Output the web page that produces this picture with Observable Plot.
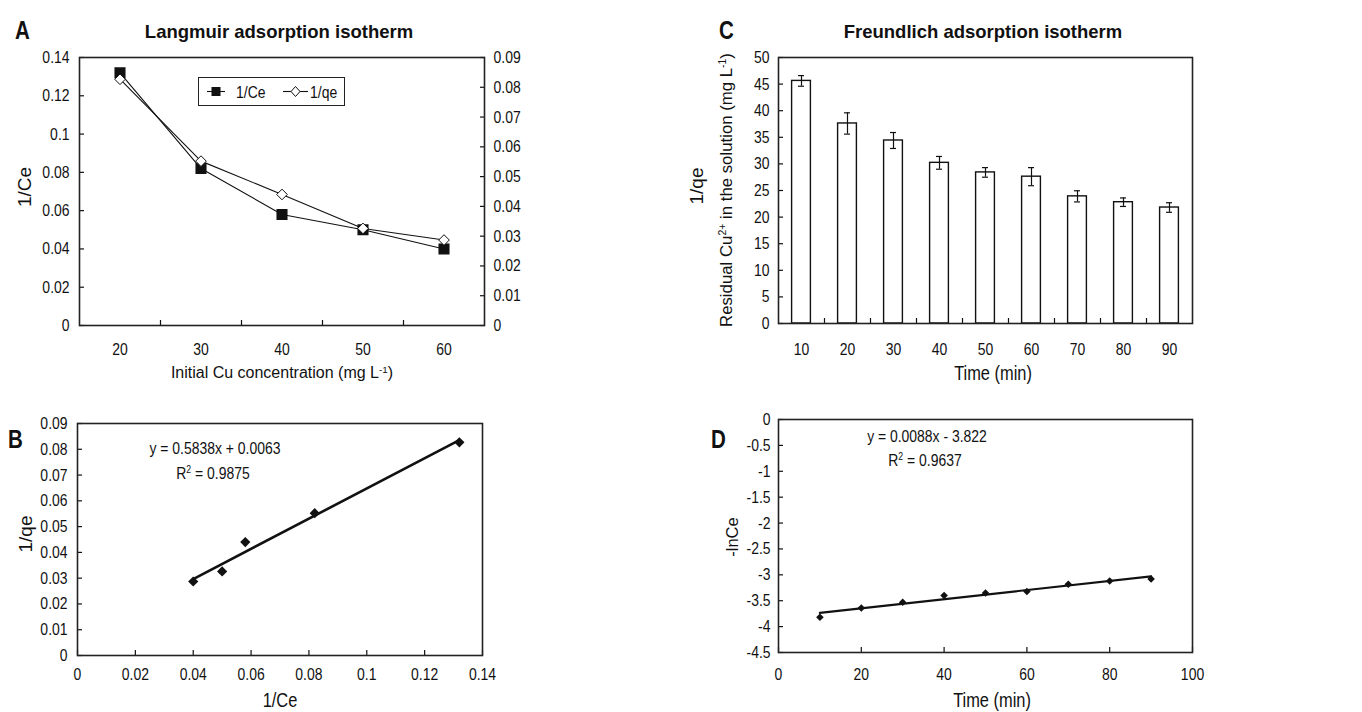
<!DOCTYPE html>
<html><head><meta charset="utf-8">
<script src="https://cdn.jsdelivr.net/npm/d3@7"></script>
<script src="https://cdn.jsdelivr.net/npm/@observablehq/plot@0.6"></script>
<style>
body{margin:0;background:#fff;}
#root{position:relative;width:1362px;height:712px;overflow:hidden;font-family:"Liberation Sans",Arial,sans-serif;color:#111;background:#fff;}
.abs{position:absolute;white-space:nowrap;line-height:1;}
.ctr{transform:translate(-50%,-50%);}
.rot{transform:translate(-50%,-50%) rotate(-90deg);}
.ctr.narrow{transform:translate(-50%,-50%) scaleX(0.82);}
.letter{transform:scaleX(0.82);transform-origin:left top;font-weight:bold;}
.bold{font-weight:bold;}
sup{font-size:0.62em;vertical-align:0.55em;line-height:0;}
.plotbox{position:absolute;}
.plotbox svg{overflow:visible;}
</style></head><body><div id="root"></div>
<script>
// ---------- data ----------
const concentrations = [20, 30, 40, 50, 60];
const invCe = [0.132, 0.082, 0.058, 0.050, 0.040];
const invQe = [0.0827, 0.0552, 0.0440, 0.0326, 0.0287];
const times = [10, 20, 30, 40, 50, 60, 70, 80, 90];
const residualCu = [45.6, 37.6, 34.4, 30.2, 28.4, 27.6, 23.9, 22.8, 21.8];
const residualErr = [1.0, 2.0, 1.5, 1.2, 0.9, 1.7, 1.05, 0.8, 0.9];
const negLnCe = [-3.82, -3.64, -3.53, -3.40, -3.35, -3.32, -3.18, -3.12, -3.08];

const aLeftTicks = [0, 0.02, 0.04, 0.06, 0.08, 0.1, 0.12, 0.14];
const aRightTicks = [0, 0.01, 0.02, 0.03, 0.04, 0.05, 0.06, 0.07, 0.08, 0.09];
const bXTicks = [0, 0.02, 0.04, 0.06, 0.08, 0.1, 0.12, 0.14];
const bYTicks = [0, 0.01, 0.02, 0.03, 0.04, 0.05, 0.06, 0.07, 0.08, 0.09];
const cYTicks = [0, 5, 10, 15, 20, 25, 30, 35, 40, 45, 50];
const dXTicks = [0, 20, 40, 60, 80, 100];
const dYTicks = [0, -0.5, -1, -1.5, -2, -2.5, -3, -3.5, -4, -4.5];

// ---------- tables ----------
const rowsA = concentrations.map((c, i) => ({c, ce: invCe[i], qe: invQe[i]}));
const rowsC = times.map((t, i) => ({t, v: residualCu[i], e: residualErr[i], ln: negLnCe[i]}));
const mid = arr => arr.slice(1).map((v, i) => (v + arr[i]) / 2);

const fmt = d => String(+(+d).toFixed(3));
const FONT = '"Liberation Sans",Arial,sans-serif';
const INK = "#111";
const baseStyle = {fontFamily: FONT, fontSize: "17px", color: INK, background: "transparent", overflow: "visible"};
const TICK = 5;
const NARROW = 0.82;

function frame() { return Plot.frame({stroke: "#222", strokeWidth: 1.6}); }
function yAxis(ticks, opts = {}) {
  const anchor = opts.anchor || "left";
  const f = opts.format || fmt;
  return [
    Plot.axisY(ticks, {anchor, tickSize: 0, tickPadding: opts.pad ?? 10, tickFormat: f, fontSize: 17}),
    Plot.axisY(ticks, {anchor, tickSize: -TICK, tickFormat: () => "", strokeWidth: 1.2})
  ];
}
function xAxis(labelTicks, tickTicks, pad) {
  return [
    Plot.axisX(labelTicks, {tickSize: 0, tickPadding: pad, tickFormat: fmt, fontSize: 17}),
    Plot.axisX(tickTicks, {tickSize: -TICK, tickFormat: () => "", strokeWidth: 1.2})
  ];
}

const root = document.getElementById("root");
function condense(svg) {
  svg.querySelectorAll("text").forEach(t => {
    const L = t.getComputedTextLength();
    if (L > 0) {
      t.setAttribute("textLength", (L * NARROW).toFixed(2));
      t.setAttribute("lengthAdjust", "spacingAndGlyphs");
    }
  });
}
function place(el, left, top) {
  const box = document.createElement("div");
  box.className = "plotbox";
  box.style.left = left + "px"; box.style.top = top + "px";
  box.appendChild(el); root.appendChild(box);
  condense(el);
}
function txt(html, x, y, cls, size) {
  const d = document.createElement("div");
  d.className = "abs " + cls;
  d.style.left = x + "px"; d.style.top = y + "px"; d.style.fontSize = size + "px";
  d.innerHTML = html; root.appendChild(d);
}

// ---------- Panel A ----------
const k = 0.14 / 0.09;
const plotA = Plot.plot({
  width: 560, height: 330, marginLeft: 79, marginRight: 76, marginTop: 17, marginBottom: 45,
  style: baseStyle,
  x: {domain: [15, 65], label: null},
  y: {domain: [0, 0.14], label: null},
  marks: [
    ...yAxis(aLeftTicks),
    ...yAxis(aRightTicks.map(v => v * k), {anchor: "right", pad: 9, format: d => fmt(d / k)}),
    ...xAxis(concentrations, mid(concentrations), 17),
    Plot.line(rowsA, {x: "c", y: "ce", stroke: INK, strokeWidth: 1.1}),
    Plot.line(rowsA, {x: "c", y: d => d.qe * k, stroke: INK, strokeWidth: 1.1}),
    Plot.dot(rowsA, {x: "c", y: "ce", symbol: "square", fill: INK, stroke: INK, r: 5.4}),
    Plot.dot(rowsA, {x: "c", y: d => d.qe * k, symbol: "diamond2", fill: "white", stroke: INK, strokeWidth: 1, r: 4.8}),
    frame()
  ]
});
place(plotA, 0, 40);

// ---------- Panel B ----------
const plotB = Plot.plot({
  width: 560, height: 312, marginLeft: 77, marginRight: 78, marginTop: 23, marginBottom: 57,
  style: baseStyle,
  x: {domain: [0, 0.14], label: null},
  y: {domain: [0, 0.09], label: null},
  marks: [
    ...yAxis(bYTicks),
    ...xAxis(bXTicks, bXTicks, 12),
    Plot.linearRegressionY(rowsA, {x: "ce", y: "qe", ci: 0, stroke: INK, strokeWidth: 2.6}),
    Plot.dot(rowsA, {x: "ce", y: "qe", symbol: "diamond2", fill: INK, r: 4.6}),
    frame()
  ]
});
place(plotB, 0, 400);

// ---------- Panel C ----------
const halfBand = 5;
const barInset = 13.6;
const capInset = 20;
const plotC = Plot.plot({
  width: 662, height: 330, marginLeft: 78, marginRight: 170, marginTop: 17, marginBottom: 47,
  style: baseStyle,
  x: {domain: [5, 95], label: null},
  y: {domain: [0, 50], label: null},
  marks: [
    ...yAxis(cYTicks, {pad: 9}),
    ...xAxis(times, mid(times), 19),
    Plot.rectY(rowsC, {x1: d => d.t - halfBand, x2: d => d.t + halfBand, y: "v", fill: "white", stroke: INK, strokeWidth: 1.4, insetLeft: barInset, insetRight: barInset}),
    Plot.ruleX(rowsC, {x: "t", y1: d => d.v - d.e, y2: d => d.v + d.e, stroke: INK, strokeWidth: 1.2}),
    Plot.ruleY(rowsC, {y: d => d.v + d.e, x1: d => d.t - halfBand, x2: d => d.t + halfBand, insetLeft: capInset, insetRight: capInset, stroke: INK, strokeWidth: 1.2}),
    Plot.ruleY(rowsC, {y: d => d.v - d.e, x1: d => d.t - halfBand, x2: d => d.t + halfBand, insetLeft: capInset, insetRight: capInset, stroke: INK, strokeWidth: 1.2}),
    frame()
  ]
});
place(plotC, 700, 40);

// ---------- Panel D ----------
const plotD = Plot.plot({
  width: 662, height: 312, marginLeft: 78, marginRight: 170, marginTop: 19, marginBottom: 60,
  style: baseStyle,
  x: {domain: [0, 100], label: null},
  y: {domain: [-4.5, 0], label: null},
  marks: [
    ...yAxis(dYTicks, {pad: 8}),
    ...xAxis(dXTicks, dXTicks, 15),
    Plot.linearRegressionY(rowsC, {x: "t", y: "ln", ci: 0, stroke: INK, strokeWidth: 2.2}),
    Plot.dot(rowsC, {x: "t", y: "ln", symbol: "diamond2", fill: INK, r: 3.4}),
    frame()
  ]
});
place(plotD, 700, 400);

// ---------- texts ----------
txt("A", 15, 18, "letter", 25);
txt("Langmuir adsorption isotherm", 279, 32, "bold ctr", 18.5);
txt("1/Ce", 24, 187, "rot", 19);
txt("1/qe", 696, 186, "rot", 19);
txt("Initial Cu concentration (mg L<sup>-1</sup>)", 282, 373, "ctr", 16);

txt("B", 8, 427, "letter", 25);
txt("1/qe", 25, 534, "rot", 19);
txt("1/Ce", 280, 700, "narrow ctr", 20);
txt("y = 0.5838x + 0.0063", 215, 448, "narrow ctr", 17);
txt("R<sup>2</sup> = 0.9875", 213, 473, "narrow ctr", 17);

txt("C", 719, 18, "letter", 25);
txt("Freundlich adsorption isotherm", 983, 32, "bold ctr", 18.5);
txt("Residual Cu<sup>2+</sup> in the solution (mg L<sup>-1</sup>)", 727, 190, "rot", 16.8);
txt("Time (min)", 993, 373, "narrow ctr", 20);

txt("D", 711, 427, "letter", 25);
txt("-lnCe", 732, 537, "rot", 16.5);
txt("Time (min)", 992, 700, "narrow ctr", 20);
txt("y = 0.0088x - 3.822", 927, 436, "narrow ctr", 17);
txt("R<sup>2</sup> = 0.9637", 925, 460, "narrow ctr", 17);

// ---------- legend (panel A) ----------
const leg = document.createElement("div");
leg.className = "abs";
leg.style.left = "198px"; leg.style.top = "77px";
leg.style.width = "147px"; leg.style.height = "29px";
leg.style.border = "1.3px solid #222"; leg.style.boxSizing = "border-box";
leg.innerHTML = `<svg width="147" height="29" style="position:absolute;left:-1px;top:-1px;font-family:'Liberation Sans',Arial,sans-serif">
  <line x1="9" x2="27" y1="14.5" y2="14.5" stroke="#111" stroke-width="1.1"/>
  <rect x="13.5" y="10" width="9" height="9" fill="#111"/>
  <text x="38" y="20.5" font-size="17" fill="#111">1/Ce</text>
  <line x1="85" x2="110" y1="14.5" y2="14.5" stroke="#111" stroke-width="1.1"/>
  <path d="M97.5,9.5 L102,14.5 L97.5,19.5 L93,14.5 Z" fill="white" stroke="#111"/>
  <text x="112" y="20.5" font-size="17" fill="#111">1/qe</text>
</svg>`;
root.appendChild(leg);
condense(leg.querySelector("svg"));
</script></body></html>
